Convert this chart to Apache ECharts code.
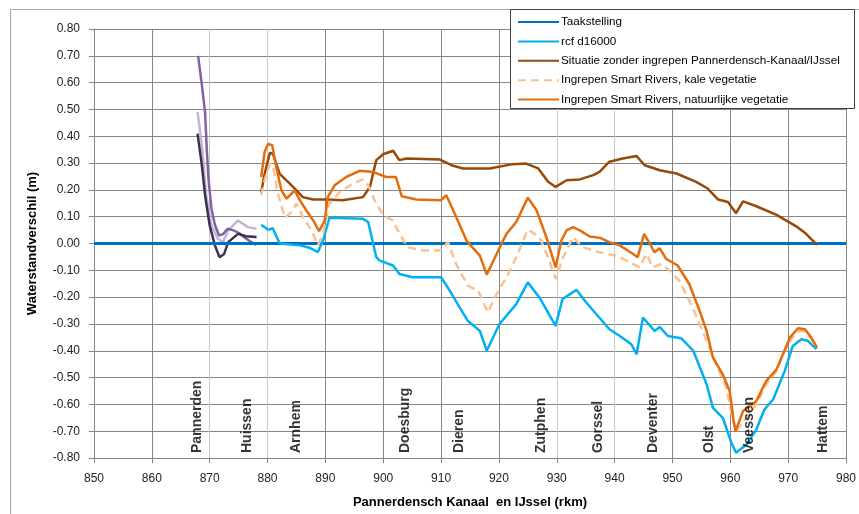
<!DOCTYPE html>
<html>
<head>
<meta charset="utf-8">
<script src="https://cdn.jsdelivr.net/npm/echarts@6/dist/echarts.min.js"></script>
<style>html,body{margin:0;padding:0;background:#fff;}#c{width:859px;height:514px;}</style>
</head>
<body>
<div id="c"></div>
<script>
// ---- data ----
const cityNames = ['Pannerden','Huissen','Arnhem','Doesburg','Dieren','Zutphen','Gorssel','Deventer','Olst','Veessen','Hattem'];
const cityKm = [867.8, 876.5, 885.0, 903.8, 913.1, 927.3, 937.1, 946.6, 956.4, 963.3, 976.1];

const taakKm = [850, 980];
const taakVal = [0, 0];

const rcfKm = [878.9, 880.1, 880.9, 882.1, 885.6, 887.3, 888.7, 889.6, 890.7, 896.5, 897.4, 898.8, 899.4, 901.7, 902.8, 905.1, 910.0, 911.5, 913.2, 914.6, 916.7, 917.9, 920.1, 923.0, 925.0, 927.0, 929.8, 931.0, 933.4, 935.1, 939.1, 940.9, 942.9, 943.8, 944.9, 946.9, 947.8, 949.2, 951.5, 953.6, 955.9, 957.0, 958.7, 960.2, 961.0, 962.8, 964.5, 965.9, 967.4, 969.4, 970.8, 972.3, 973.4, 974.9];
const rcfVal = [0.07, 0.051, 0.057, 0.0, -0.007, -0.016, -0.032, 0.011, 0.096, 0.092, 0.08, -0.051, -0.064, -0.082, -0.114, -0.126, -0.126, -0.176, -0.238, -0.288, -0.326, -0.40, -0.30, -0.226, -0.145, -0.201, -0.307, -0.207, -0.173, -0.22, -0.32, -0.345, -0.376, -0.413, -0.276, -0.326, -0.311, -0.345, -0.353, -0.40, -0.525, -0.613, -0.65, -0.744, -0.78, -0.75, -0.694, -0.619, -0.582, -0.476, -0.382, -0.357, -0.363, -0.394];

const zonderKm = [878.9, 879.5, 880.4, 880.9, 882.1, 883.8, 885.0, 886.1, 887.9, 890.2, 893.0, 896.5, 897.7, 898.8, 900.0, 901.7, 902.8, 904.0, 909.8, 911.8, 913.8, 918.4, 922.4, 924.7, 926.8, 928.5, 929.8, 931.7, 934.0, 936.3, 937.4, 939.1, 941.4, 943.8, 945.2, 947.8, 950.7, 954.1, 956.1, 957.9, 959.6, 961.0, 962.2, 964.5, 968.0, 971.4, 973.1, 975.0];
const zonderVal = [0.19, 0.26, 0.338, 0.336, 0.26, 0.224, 0.198, 0.173, 0.164, 0.164, 0.161, 0.173, 0.211, 0.311, 0.333, 0.346, 0.311, 0.317, 0.313, 0.292, 0.28, 0.28, 0.296, 0.298, 0.28, 0.23, 0.211, 0.236, 0.239, 0.255, 0.267, 0.305, 0.317, 0.326, 0.292, 0.273, 0.261, 0.23, 0.205, 0.164, 0.155, 0.113, 0.157, 0.139, 0.107, 0.064, 0.036, -0.005];

const kaleKm = [878.9, 879.5, 880.4, 880.9, 881.8, 883.0, 884.1, 885.0, 886.1, 887.6, 888.7, 889.6, 890.7, 892.5, 894.8, 896.5, 897.4, 898.5, 900.0, 901.7, 902.8, 904.3, 906.9, 910.0, 911.2, 912.6, 914.6, 916.4, 918.1, 919.6, 921.3, 923.0, 925.0, 927.0, 928.5, 929.8, 931.1, 932.8, 934.5, 937.4, 940.2, 943.2, 944.3, 945.5, 946.6, 948.1, 949.5, 951.2, 953.5, 955.9, 957.6, 959.3, 960.5, 961.0, 962.8, 964.5, 966.2, 968.0, 969.1, 970.3, 971.7, 972.9, 974.0, 975.0];
const kaleVal = [0.18, 0.236, 0.298, 0.292, 0.186, 0.096, 0.117, 0.149, 0.099, 0.049, -0.007, 0.036, 0.149, 0.192, 0.224, 0.239, 0.217, 0.161, 0.105, 0.086, 0.036, -0.014, -0.026, -0.026, 0.005, -0.076, -0.157, -0.176, -0.257, -0.188, -0.126, -0.051, 0.052, 0.024, -0.051, -0.132, -0.051, 0.024, -0.014, -0.033, -0.045, -0.076, -0.089, -0.039, -0.089, -0.076, -0.101, -0.139, -0.239, -0.363, -0.451, -0.538, -0.663, -0.70, -0.65, -0.60, -0.525, -0.476, -0.413, -0.363, -0.326, -0.326, -0.357, -0.388];

const natKm = [878.9, 879.5, 880.1, 880.8, 881.5, 882.4, 883.3, 884.7, 885.6, 886.7, 887.9, 888.9, 889.9, 890.4, 891.6, 893.6, 895.9, 898.2, 900.5, 902.2, 903.2, 905.7, 910.0, 910.9, 912.1, 914.4, 916.7, 917.9, 919.6, 921.3, 923.0, 925.0, 926.5, 928.2, 929.8, 930.8, 931.7, 932.8, 934.0, 935.7, 937.5, 939.1, 940.9, 943.2, 944.0, 945.1, 946.1, 946.9, 947.8, 948.9, 950.9, 952.9, 954.7, 955.9, 957.0, 958.7, 959.9, 960.5, 960.9, 962.2, 964.5, 966.2, 968.0, 969.1, 970.3, 971.7, 972.9, 974.0, 975.0];
const natVal = [0.248, 0.342, 0.371, 0.367, 0.286, 0.198, 0.167, 0.198, 0.161, 0.124, 0.086, 0.046, 0.086, 0.173, 0.217, 0.248, 0.271, 0.267, 0.248, 0.248, 0.176, 0.164, 0.161, 0.18, 0.124, 0.011, -0.045, -0.116, -0.039, 0.036, 0.08, 0.171, 0.124, 0.024, -0.089, 0.011, 0.049, 0.061, 0.049, 0.026, 0.021, 0.005, -0.007, -0.039, -0.051, 0.036, -0.001, -0.033, -0.018, -0.057, -0.082, -0.151, -0.251, -0.326, -0.426, -0.488, -0.551, -0.65, -0.70, -0.625, -0.588, -0.513, -0.469, -0.413, -0.351, -0.316, -0.32, -0.351, -0.388];

const purpleMidKm = [868.0, 868.6, 869.2, 869.5, 869.8, 870.3, 870.9, 871.6, 872.3, 873.1, 874.0, 875.0, 876.2, 877.2, 878.0];
const purpleMidVal = [0.70, 0.60, 0.49, 0.35, 0.24, 0.13, 0.07, 0.03, 0.035, 0.055, 0.05, 0.04, 0.02, 0.005, -0.005];
const purpleLightKm = [867.9, 868.4, 868.8, 869.4, 870.3, 871.4, 872.3, 873.2, 874.9, 876.6, 878.1];
const purpleLightVal = [0.49, 0.41, 0.33, 0.18, 0.067, 0.018, 0.005, 0.049, 0.086, 0.061, 0.055];
const purpleDarkKm = [867.9, 868.6, 869.2, 870.0, 870.9, 871.7, 872.5, 873.2, 874.9, 876.3, 878.1];
const purpleDarkVal = [0.41, 0.30, 0.18, 0.067, -0.007, -0.051, -0.039, 0.005, 0.036, 0.027, 0.024];

const xTicks = {min: 850, max: 980, step: 10};
const yTicks = {min: -0.8, max: 0.8, step: 0.1};

// ---- chart ----
const pair = (xs, ys) => xs.map((x, i) => [x, ys[i]]);
const FONT = "'Liberation Sans Narrow', 'Liberation Sans', 'DejaVu Sans', sans-serif";

const chart = echarts.init(document.getElementById('c'), null, {renderer: 'canvas'});

function lineSeries(name, xs, ys, color, width, extra) {
  return Object.assign({
    name: name, type: 'line', data: pair(xs, ys), showSymbol: false, symbol: 'none',
    smooth: false, animation: false,
    lineStyle: {color: color, width: width},
    itemStyle: {color: color}
  }, extra || {});
}

const vColors = ['#868686','#868686','#c8c8c8','#c8c8c8','#868686','#868686','#868686','#868686','#c8c8c8','#c8c8c8','#868686','#868686','#868686','#868686'];

const option = {
  animation: false,
  backgroundColor: '#fff',
  grid: {left: 94, right: 13, top: 29, bottom: 56, containLabel: false},
  graphic: [
    {type: 'rect', shape: {x: 10.5, y: 9.5, width: 870, height: 530}, style: {fill: 'none', stroke: '#a6a6a6', lineWidth: 1}, z: -10, silent: true},
    {type: 'rect', shape: {x: 510.5, y: 9.5, width: 344, height: 99}, style: {fill: '#fff', stroke: '#404040', lineWidth: 1}, z: 50, silent: true}
  ],
  legend: {
    orient: 'vertical', left: 510, top: 9, padding: [7, 6, 6, 7],
    itemWidth: 41, itemHeight: 12, itemGap: 7.4, z: 60,
    itemStyle: {opacity: 0},
    data: ['Taakstelling', 'rcf d16000', 'Situatie zonder ingrepen Pannerdensch-Kanaal/IJssel', 'Ingrepen Smart Rivers, kale vegetatie', 'Ingrepen Smart Rivers, natuurlijke vegetatie'],
    textStyle: {fontFamily: FONT, fontSize: 11.7, color: '#000', padding: [0, 0, 0, -3]}
  },
  xAxis: {
    type: 'value', min: xTicks.min, max: xTicks.max, interval: xTicks.step,
    name: 'Pannerdensch Kanaal  en IJssel (rkm)', nameLocation: 'middle', nameGap: 38,
    nameTextStyle: {fontFamily: FONT, fontSize: 13, fontWeight: 'bold', color: '#000'},
    axisLine: {show: true, onZero: false, lineStyle: {color: '#868686', width: 1}},
    axisTick: {show: true, inside: false, length: 5, lineStyle: {color: '#868686'}},
    axisLabel: {fontFamily: FONT, fontSize: 12, color: '#222', margin: 15},
    splitLine: {show: true, lineStyle: {color: vColors, width: 1}}
  },
  yAxis: {
    type: 'value', min: yTicks.min, max: yTicks.max, interval: yTicks.step,
    name: 'Waterstandverschil (m)', nameLocation: 'middle', nameGap: 55,
    nameTextStyle: {fontFamily: FONT, fontSize: 13, fontWeight: 'bold', color: '#000'},
    axisLine: {show: true, onZero: false, lineStyle: {color: '#868686', width: 1}},
    axisTick: {show: true, inside: false, length: 5, lineStyle: {color: '#868686'}},
    axisLabel: {fontFamily: FONT, fontSize: 12, color: '#222', margin: 14,
      formatter: v => { const r = Math.round(v * 100) / 100; return (Math.abs(r) < 1e-9 ? 0 : r).toFixed(2); }},
    splitLine: {show: true, lineStyle: {color: '#868686', width: 1}}
  },
  series: [
    lineSeries('purple-light', purpleLightKm, purpleLightVal, '#c3b4d8', 2.5),
    lineSeries('purple-mid', purpleMidKm, purpleMidVal, '#8064a2', 2.5),
    lineSeries('purple-dark', purpleDarkKm, purpleDarkVal, '#3f3151', 2.5),
    lineSeries('Taakstelling', taakKm, taakVal, '#0070c0', 3),
    lineSeries('rcf d16000', rcfKm, rcfVal, '#00b0f0', 2.5),
    lineSeries('Situatie zonder ingrepen Pannerdensch-Kanaal/IJssel', zonderKm, zonderVal, '#984807', 2.5),
    lineSeries('Ingrepen Smart Rivers, kale vegetatie', kaleKm, kaleVal, '#fac090', 2.5, {lineStyle: {color: '#fac090', width: 2.5, type: [8, 5]}}),
    lineSeries('Ingrepen Smart Rivers, natuurlijke vegetatie', natKm, natVal, '#e46c0a', 2.5),
    {
      name: 'cities', type: 'scatter', symbolSize: 0, animation: false, silent: true, z: 20,
      data: cityKm.map((k, i) => ({value: [k, yTicks.min], name: cityNames[i]})),
      label: {
        show: true, formatter: p => p.name, position: 'inside', rotate: 90,
        align: 'left', verticalAlign: 'middle', offset: [5, 0],
        fontFamily: FONT, fontSize: 14, fontWeight: 'bold', color: '#000'
      }
    }
  ]
};
chart.setOption(option);
</script>
</body>
</html>
